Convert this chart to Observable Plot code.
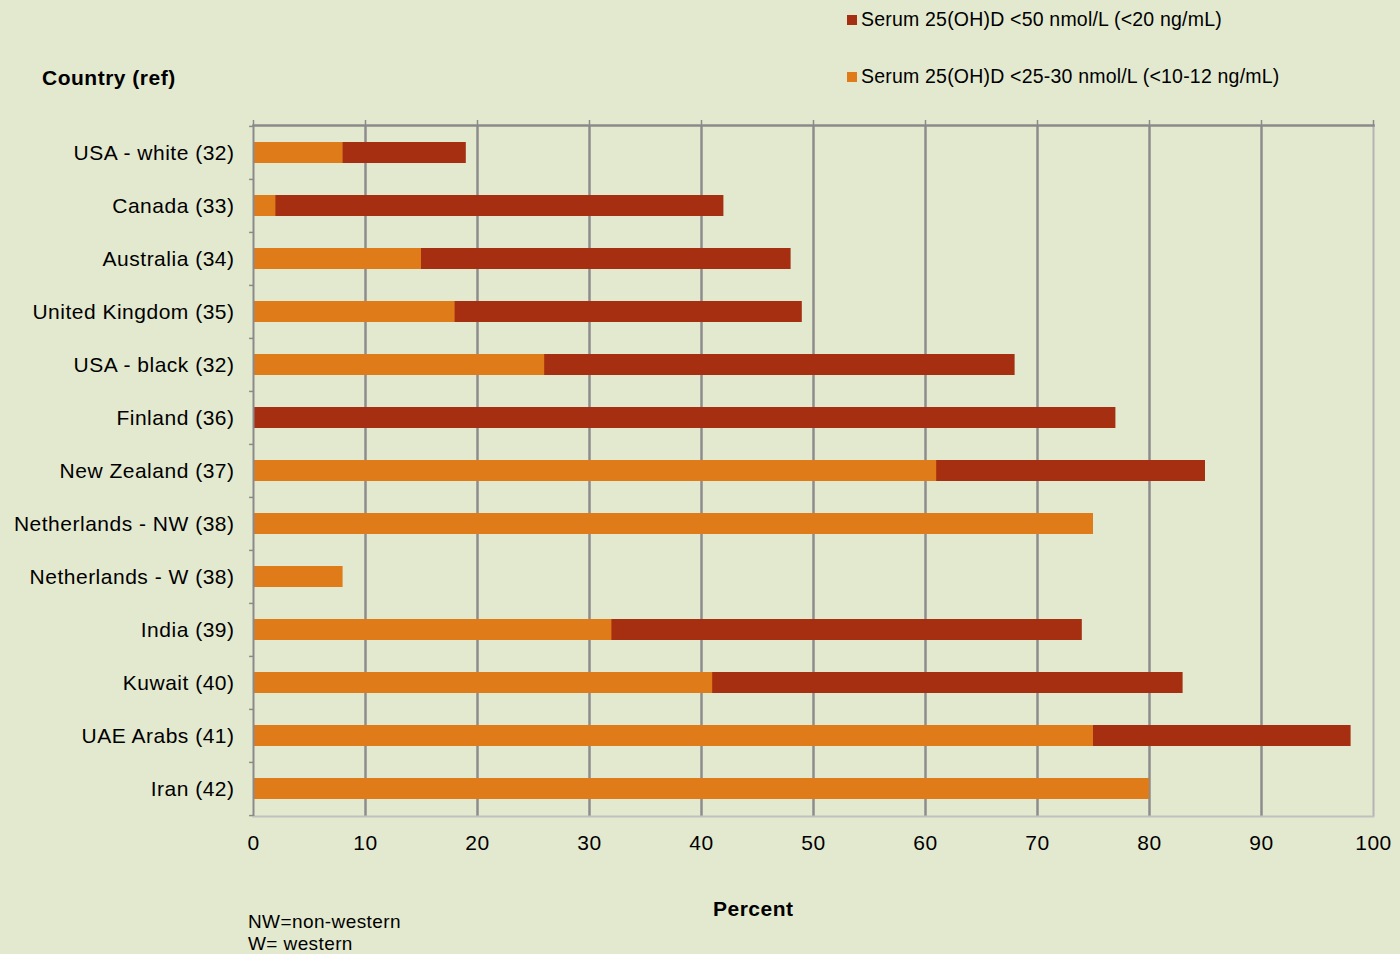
<!DOCTYPE html>
<html>
<head>
<meta charset="utf-8">
<script src="https://cdn.jsdelivr.net/npm/d3@7"></script>
<script src="https://cdn.jsdelivr.net/npm/@observablehq/plot@0.6"></script>
<style>
  html, body { margin: 0; padding: 0; background: #E3E9CF; }
  #wrap { position: relative; width: 1400px; height: 954px; font-family: "Liberation Sans", Arial, sans-serif; color: #000; }
  #chart { position: absolute; left: 0; top: 0; }
  .lbl { position: absolute; white-space: nowrap; letter-spacing: 0.5px; }
  .bold { font-weight: bold; }
  .leg { position: absolute; font-size: 19.5px; letter-spacing: 0.2px; white-space: nowrap; display: flex; align-items: center; }
  .sw { width: 10px; height: 10px; margin-right: 4px; display: inline-block; }
</style>
</head>
<body>
<div id="wrap">
  <div id="chart"></div>
  <div class="leg" style="left:847px; top:8px;"><span class="sw" style="background:#A52F10"></span>Serum 25(OH)D &lt;50 nmol/L (&lt;20 ng/mL)</div>
  <div class="leg" style="left:847px; top:65px;"><span class="sw" style="background:#DF7C19"></span>Serum 25(OH)D &lt;25-30 nmol/L (&lt;10-12 ng/mL)</div>
  <div class="lbl bold" style="left:42px; top:66px; font-size:21px;">Country (ref)</div>
  <div class="lbl bold" style="left:713px; top:897px; font-size:21px;">Percent</div>
  <div class="lbl" style="left:248px; top:911px; font-size:19px; line-height:22px; letter-spacing:0.4px;">NW=non-western<br>W= western</div>
</div>
<script>
const countries = [
  "USA - white (32)", "Canada (33)", "Australia (34)", "United Kingdom (35)",
  "USA - black (32)", "Finland (36)", "New Zealand (37)", "Netherlands - NW (38)",
  "Netherlands - W (38)", "India (39)", "Kuwait (40)", "UAE Arabs (41)", "Iran (42)"
];
const below50 = [19, 42, 48, 49, 68, 77, 85, null, null, 74, 83, 98, null];
const below25_30 = [8, 2, 15, 18, 26, null, 61, 75, 8, 32, 41, 75, 80];
const xTicks = [0, 10, 20, 30, 40, 50, 60, 70, 80, 90, 100];
const gridTicks = [10, 20, 30, 40, 50, 60, 70, 80, 90];

const rows = countries.map((c, i) => ({country: c, v50: below50[i], v25: below25_30[i]}));

const W = 1400, H = 954, mT = 125, mB = 138, mL = 253, mR = 27;
const step = (H - mT - mB) / countries.length;

const chart = Plot.plot({
  width: W, height: H,
  marginTop: mT, marginBottom: mB, marginLeft: mL, marginRight: mR,
  style: {background: "transparent", fontFamily: "'Liberation Sans', Arial, sans-serif", color: "#000", letterSpacing: "0.5px"},
  x: {domain: [0, 100]},
  y: {domain: countries, paddingInner: 0.6, paddingOuter: 0.3},
  marks: [
    Plot.ruleX(gridTicks, {stroke: "#8C8C8C", strokeWidth: 2.5}),
    Plot.ruleX([100], {stroke: "#B4B4B4", strokeWidth: 2}),
    Plot.frame({anchor: "bottom", stroke: "#C0C0C0", strokeWidth: 2}),
    Plot.barX(rows.filter(d => d.v50 != null), {x: "v50", y: "country", fill: "#A52F10"}),
    Plot.barX(rows.filter(d => d.v25 != null), {x: "v25", y: "country", fill: "#DF7C19"}),
    Plot.frame({anchor: "top", stroke: "#8A8A8A", strokeWidth: 2.5}),
    Plot.ruleX([0], {stroke: "#8A8A8A", strokeWidth: 2}),
    Plot.ruleY(countries, {y: d => d, x1: -0.35, x2: 0, dy: -step / 2, stroke: "#8A8A8A", strokeWidth: 1.5}),
    Plot.ruleY(countries.slice(-1), {y: d => d, x1: -0.35, x2: 0, dy: step / 2, stroke: "#8A8A8A", strokeWidth: 1.5}),
    Plot.axisX({anchor: "top", ticks: xTicks, tickSize: 6, tickFormat: () => "", stroke: "#8A8A8A", strokeWidth: 1.5, label: null}),
    Plot.axisX({anchor: "bottom", ticks: xTicks, tickSize: 0, tickPadding: 19, fontSize: 21, label: null}),
    Plot.axisY({tickSize: 0, tickPadding: 19, fontSize: 21, label: null})
  ]
});
document.getElementById("chart").appendChild(chart);
</script>
</body>
</html>
